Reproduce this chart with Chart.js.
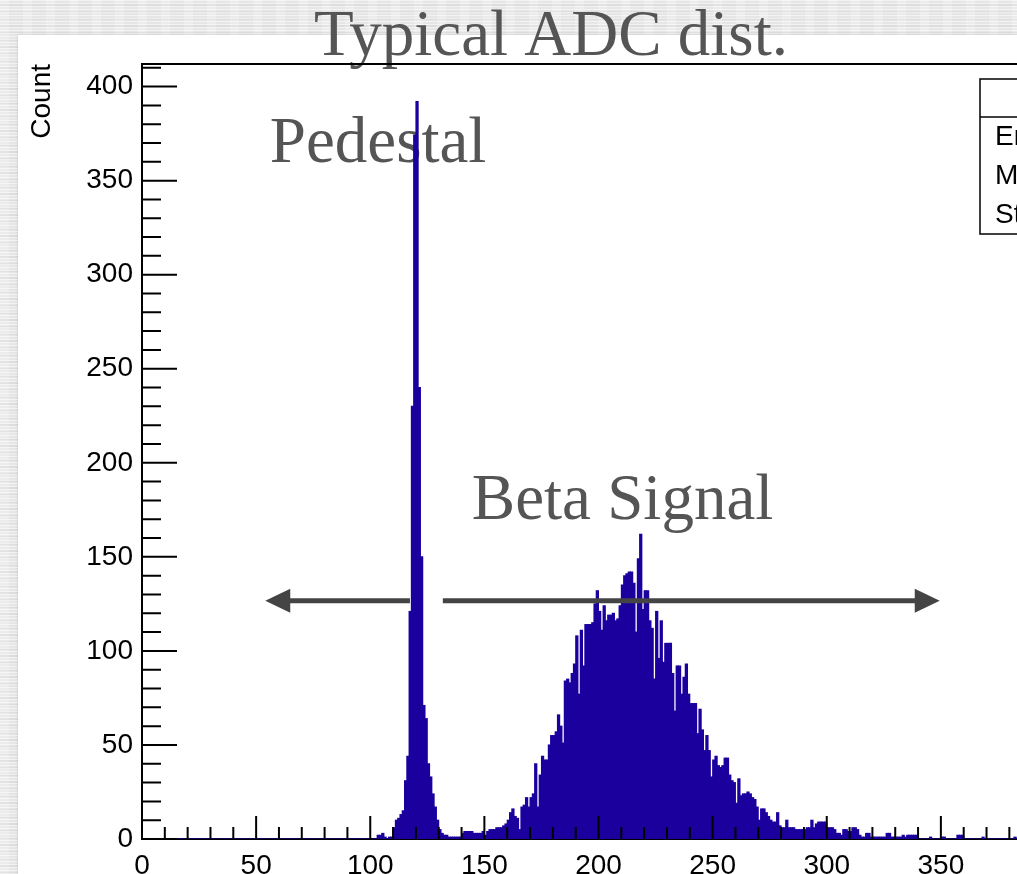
<!DOCTYPE html>
<html>
<head>
<meta charset="utf-8">
<script src="https://cdn.jsdelivr.net/npm/chart.js@4.4.0/dist/chart.umd.min.js"></script>
<style>
  html, body { margin: 0; padding: 0; width: 1017px; height: 874px; overflow: hidden; }
  body {
    position: relative;
    background-color: #e6e6e6;
    background-image:
      repeating-linear-gradient(0deg, rgba(255,255,255,0.5) 0 1px, rgba(255,255,255,0) 1px 3px),
      repeating-linear-gradient(0deg, rgba(0,0,0,0.04) 0 2px, rgba(0,0,0,0) 2px 7px),
      repeating-linear-gradient(90deg, rgba(255,255,255,0.25) 0 9px, rgba(255,255,255,0) 9px 23px);
  }
  #panel { position: absolute; left: 18px; top: 35px; width: 1120px; height: 900px; background: #fff; box-shadow: 0 0 3px rgba(0,0,0,0.15); }
  #c { position: absolute; left: 0; top: 0; }
</style>
</head>
<body>
<div id="panel"></div>
<canvas id="c" width="1100" height="874"></canvas>
<script>
// ADC histogram, one count per unit bin, starting at bin 100
const binStart = 100;
const counts = [
  0, 0, 0, 2, 2, 3, 1, 0, 1, 1,
  6, 10, 11, 13, 15, 31, 44, 121, 230, 374,
  392, 240, 150, 71, 64, 40, 33, 24, 17, 10,
  5, 3, 2, 2, 1, 1, 1, 1, 1, 1,
  3, 4, 4, 4, 4, 3, 3, 3, 3, 4,
  2, 4, 5, 5, 5, 6, 6, 6, 7, 8,
  10, 14, 16, 12, 11, 5, 17, 18, 22, 17,
  22, 24, 40, 17, 34, 44, 42, 42, 50, 55,
  55, 57, 66, 60, 51, 84, 85, 83, 88, 93,
  108, 77, 111, 92, 114, 114, 114, 115, 125, 132,
  121, 111, 124, 116, 119, 119, 120, 116, 117, 124,
  135, 140, 141, 142, 142, 136, 110, 149, 162, 122,
  132, 132, 116, 112, 85, 121, 96, 116, 94, 104,
  104, 104, 88, 68, 92, 92, 77, 86, 93, 77,
  72, 72, 72, 56, 69, 58, 47, 55, 47, 33,
  42, 44, 39, 38, 39, 43, 43, 34, 31, 30,
  19, 32, 23, 24, 24, 25, 24, 22, 21, 17,
  10, 16, 16, 14, 12, 10, 9, 9, 14, 7,
  6, 6, 10, 6, 6, 6, 5, 5, 5, 5,
  5, 6, 6, 10, 6, 8, 9, 9, 9, 9,
  6, 6, 6, 5, 3, 3, 2, 5, 5, 4,
  4, 6, 6, 5, 2, 1, 1, 3, 3, 1,
  1, 1, 1, 1, 1, 1, 3, 3, 1, 1,
  1, 1, 1, 2, 1, 2, 2, 2, 2, 2,
  0, 0, 0, 0, 0, 1, 0, 0, 0, 0,
  1, 1, 0, 0, 0, 0, 0, 2, 2, 2,
  0, 0, 0, 0, 0, 0, 0, 0, 1, 0,
  0, 0, 0, 0, 0, 0, 0, 0, 0, 0,
  0, 0, 1
];
const nBins = 400;
const xMajorTicks = [0, 50, 100, 150, 200, 250, 300, 350, 400];
const yMajorTicks = [0, 50, 100, 150, 200, 250, 300, 350, 400];
const minorStep = 10;
const statsRows = ['Entries', 'Mean', 'Std Dev'];
const titleText = 'Typical ADC dist.';

// text labels and arrows, placed in axis units
const notes = [
  { text: 'Pedestal', x: 56, y: 360 },
  { text: 'Beta Signal', x: 144.5, y: 170 }
];
const arrows = [
  { from: 117.4, to: 54, y: 126.6 },
  { from: 131.8, to: 349.5, y: 126.6 }
];

const bins = [];
for (let b = 0; b < nBins; b++) {
  const i = b - binStart;
  bins.push({ x: b + 0.5, y: i >= 0 && i < counts.length ? counts[i] : 0 });
}

const serif = "'Liberation Serif', 'DejaVu Serif', serif";
const sans = "'Liberation Sans', Arial, sans-serif";

const rootFrame = {
  id: 'rootFrame',
  beforeDatasetsDraw(chart) {
    const { ctx, scales: { x, y } } = chart;
    ctx.save();
    ctx.fillStyle = '#555';
    ctx.font = '65px ' + serif;
    ctx.textBaseline = 'alphabetic';
    ctx.textAlign = 'center';
    ctx.fillText(titleText, 551, 55);
    ctx.textAlign = 'left';
    notes.forEach(n => ctx.fillText(n.text, x.getPixelForValue(n.x), y.getPixelForValue(n.y)));
    ctx.restore();
  },
  afterDatasetsDraw(chart) {
    const { ctx, chartArea: a, scales: { x, y } } = chart;
    ctx.save();
    ctx.strokeStyle = '#000';
    ctx.lineWidth = 2;
    ctx.beginPath();
    ctx.moveTo(a.left, a.top);
    ctx.lineTo(a.right, a.top);
    ctx.lineTo(a.right, a.bottom);
    // ticks point into the frame
    for (let v = x.min; v <= x.max; v += minorStep) {
      const px = x.getPixelForValue(v);
      const len = xMajorTicks.includes(v) ? 23 : 12;
      ctx.moveTo(px, a.bottom);
      ctx.lineTo(px, a.bottom - len);
    }
    for (let v = 0; v <= y.max; v += minorStep) {
      const py = y.getPixelForValue(v);
      const len = yMajorTicks.includes(v) ? 35 : 19;
      ctx.moveTo(a.left, py);
      ctx.lineTo(a.left + len, py);
    }
    ctx.stroke();

    // arrows
    ctx.strokeStyle = '#444';
    ctx.fillStyle = '#444';
    ctx.lineWidth = 5;
    arrows.forEach(ar => {
      const x0 = x.getPixelForValue(ar.from);
      const x1 = x.getPixelForValue(ar.to);
      const py = y.getPixelForValue(ar.y);
      const dir = Math.sign(x1 - x0);
      ctx.beginPath();
      ctx.moveTo(x0, py);
      ctx.lineTo(x1 - dir * 22, py);
      ctx.stroke();
      ctx.beginPath();
      ctx.moveTo(x1, py);
      ctx.lineTo(x1 - dir * 25, py - 12);
      ctx.lineTo(x1 - dir * 25, py + 12);
      ctx.closePath();
      ctx.fill();
    });
    ctx.restore();
  },
  afterDraw(chart) {
    const { ctx } = chart;
    // statistics box
    const bx = 980, by = 79, bw = 160, head = 38, row = 39;
    const bh = head + row * statsRows.length;
    ctx.save();
    ctx.fillStyle = '#fff';
    ctx.fillRect(bx, by, bw, bh);
    ctx.strokeStyle = '#000';
    ctx.lineWidth = 1.5;
    ctx.strokeRect(bx, by, bw, bh);
    ctx.beginPath();
    ctx.moveTo(bx, by + head);
    ctx.lineTo(bx + bw, by + head);
    ctx.stroke();
    ctx.fillStyle = '#000';
    ctx.font = '28px ' + sans;
    ctx.textBaseline = 'middle';
    statsRows.forEach((t, i) => ctx.fillText(t, bx + 15, by + head + row * (i + 0.5) + 1));
    ctx.restore();
  }
};

new Chart(document.getElementById('c'), {
  type: 'bar',
  data: {
    datasets: [{
      data: bins,
      backgroundColor: '#1b009e',
      borderWidth: 0,
      inflateAmount: 0.5,
      barPercentage: 1,
      categoryPercentage: 1,
      grouped: false
    }]
  },
  options: {
    responsive: false,
    animation: false,
    devicePixelRatio: 1,
    layout: { padding: { top: 64, right: 45, bottom: 0, left: 0 } },
    plugins: {
      legend: { display: false },
      tooltip: { enabled: false }
    },
    scales: {
      x: {
        type: 'linear',
        min: 0,
        max: nBins,
        offset: false,
        grid: { display: false, drawTicks: false },
        border: { color: '#000', width: 2 },
        afterBuildTicks: s => { s.ticks = xMajorTicks.map(v => ({ value: v })); },
        afterFit: s => { s.height = 35; },
        ticks: {
          autoSkip: false,
          maxRotation: 0,
          padding: 10,
          color: '#000',
          font: { family: sans, size: 28 }
        }
      },
      y: {
        min: 0,
        max: 412,
        grid: { display: false, drawTicks: false },
        border: { color: '#000', width: 2 },
        afterBuildTicks: s => { s.ticks = yMajorTicks.map(v => ({ value: v })); },
        afterFit: s => { s.width = 142; },
        ticks: {
          padding: 9,
          color: '#000',
          font: { family: sans, size: 28 }
        },
        title: {
          display: true,
          text: 'Count',
          align: 'end',
          color: '#000',
          padding: { top: 25 },
          font: { family: sans, size: 28 }
        }
      }
    }
  },
  plugins: [rootFrame]
});
</script>
</body>
</html>
